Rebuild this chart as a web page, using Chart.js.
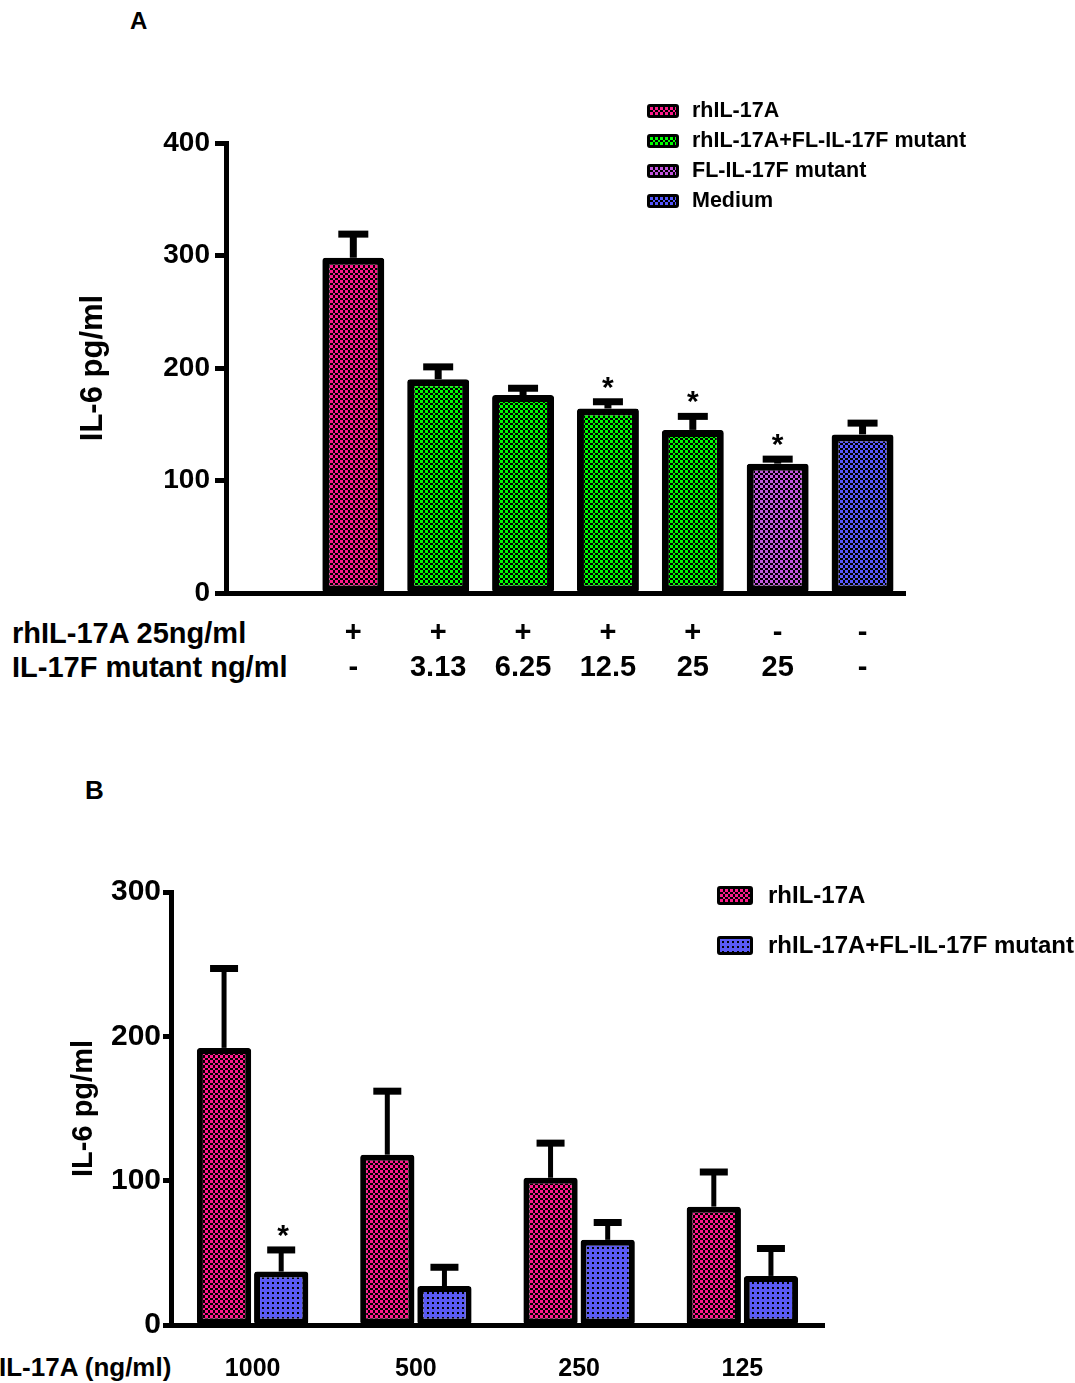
<!DOCTYPE html>
<html>
<head>
<meta charset="utf-8">
<script src="https://cdn.jsdelivr.net/npm/chart.js@4.4.1/dist/chart.umd.min.js"></script>
<style>
  body { margin: 0; background: #fff; }
  #page { position: relative; width: 1075px; height: 1383px; overflow: hidden;
          font-family: 'Liberation Sans', Arial, sans-serif; font-weight: bold; color: #000; }
  .box  { position: absolute; left: 0; }
  .txt  { position: absolute; white-space: nowrap; line-height: 1; }
  .leg  { position: absolute; display: flex; align-items: center; white-space: nowrap; line-height: 1; }
  .sw   { box-sizing: border-box; border: 3px solid #000; border-radius: 3px; }
</style>
</head>
<body>
<div id="page">
  <div class="txt" style="left:130px;top:9px;font-size:24px">A</div>
  <div class="txt" style="left:12px;top:619px;font-size:29px">rhIL-17A 25ng/ml</div>
  <div class="txt" style="left:12px;top:653px;font-size:29px">IL-17F mutant ng/ml</div>
  <div class="box" style="top:0;width:1075px;height:720px"><canvas id="chartA" width="1075" height="720"></canvas></div>

  <div class="txt" style="left:85px;top:777px;font-size:26px">B</div>
  <div class="txt" style="left:-1px;top:1354px;font-size:26px">IL-17A (ng/ml)</div>
  <div class="box" style="top:760px;width:1075px;height:623px"><canvas id="chartB" width="1075" height="623"></canvas></div>
</div>

<script>
/* ---------- panel A data ---------- */
const seriesA  = ['rhIL-17A', 'rhIL-17A+FL-IL-17F mutant', 'FL-IL-17F mutant', 'Medium'];
const rowRhA   = ['', '+', '+', '+', '+', '+', '-', '-'];
const rowMutA  = ['', '-', '3.13', '6.25', '12.5', '25', '25', '-'];
const meansA   = [null, 298, 190, 176, 164, 145, 115, 141];
const errA     = [null, 21, 11, 6, 6, 12, 4, 10];
const groupA   = [null, 0, 1, 1, 1, 1, 2, 3];
const starA    = [0, 0, 0, 0, 1, 1, 1, 0];
const ticksA   = [0, 100, 200, 300, 400];

/* ---------- panel B data ---------- */
const seriesB  = ['rhIL-17A', 'rhIL-17A+FL-IL-17F mutant'];
const doseB    = ['1000', '500', '250', '125'];
const redB     = [192, 118, 102, 82];
const redErrB  = [55, 44, 24, 24];
const blueB    = [37, 27, 59, 34];
const blueErrB = [15, 13, 12, 19];
const starB    = [1, 0, 0, 0];
const ticksB   = [0, 100, 200, 300];

/* ---------- colours ---------- */
const COLORS = {
  pink   : '#ff1a8c',
  green  : '#00ff00',
  purple : '#c455e0',
  blue   : '#5757ff',
  blueB  : '#5a5af5'
};
const FONT = "'Liberation Sans', Arial, sans-serif";
Chart.defaults.font.family = FONT;
Chart.defaults.color = '#000';

/* ---------- fill tiles (uneven checker, colour a bit dominant) ---------- */
const checker = color => {
  const c = document.createElement('canvas');
  c.width = c.height = 5;
  const g = c.getContext('2d');
  g.fillStyle = '#000'; g.fillRect(0, 0, 5, 5);
  g.fillStyle = color;  g.fillRect(0, 0, 3, 3); g.fillRect(3, 3, 2, 2);
  return c;
};
const dotted = color => {
  const c = document.createElement('canvas');
  c.width = c.height = 5;
  const g = c.getContext('2d');
  g.fillStyle = color;  g.fillRect(0, 0, 5, 5);
  g.fillStyle = '#000'; g.fillRect(2, 2, 2, 2);
  return c;
};
const pat = tile => document.createElement('canvas').getContext('2d').createPattern(tile, 'repeat');

const tilesA = [checker(COLORS.pink), checker(COLORS.green), checker(COLORS.purple), checker(COLORS.blue)];
const tilesB = [checker(COLORS.pink), dotted(COLORS.blueB)];

/* ---------- html legend ---------- */
const legend = (names, tiles, x, y0, step, sw, fs, gap) => {
  const page = document.getElementById('page');
  names.forEach((name, i) => {
    const row = document.createElement('div');
    row.className = 'leg';
    row.style.cssText = `left:${x}px;top:${y0 + i * step - 15}px;height:30px;font-size:${fs}px`;
    row.innerHTML = `<span class="sw" style="width:${sw[0]}px;height:${sw[1]}px;margin-right:${gap}px;` +
      `background-image:url(${tiles[i].toDataURL()})"></span><span>${name}</span>`;
    page.appendChild(row);
  });
};
legend(seriesA, tilesA, 647, 111, 30, [32, 14], 21.5, 13);
legend(seriesB, tilesB, 717, 895, 50, [36, 19], 24, 15);

/* ---------- error bars + asterisks ---------- */
const errorBars = {
  id: 'errorBars',
  afterDatasetsDraw (chart, args, o) {
    const { ctx, scales: { y } } = chart;
    chart.data.datasets.forEach((ds, di) => {
      chart.getDatasetMeta(di).data.forEach((bar, i) => {
        const v = ds.data[i];
        if (v == null) return;
        const top = y.getPixelForValue(v + ds.errs[i]);
        ctx.save();
        ctx.strokeStyle = '#000';
        ctx.lineWidth = o.stem;
        ctx.beginPath(); ctx.moveTo(bar.x, bar.y); ctx.lineTo(bar.x, top); ctx.stroke();
        ctx.lineWidth = 7;
        ctx.beginPath(); ctx.moveTo(bar.x - o.cap, top); ctx.lineTo(bar.x + o.cap, top); ctx.stroke();
        if (ds.stars[i]) {
          ctx.fillStyle = '#000';
          ctx.font = `bold 30px ${FONT}`;
          ctx.textAlign = 'center';
          ctx.textBaseline = 'alphabetic';
          ctx.fillText('*', bar.x + o.starDx, top - 5);
        }
        ctx.restore();
      });
    });
  }
};

const yAxis = (max, ticks, width, tickFs, titleFs, titlePad, tickLen, tickPad) => ({
  min: 0, max,
  afterFit: s => { s.width = width; },
  afterBuildTicks: s => { s.ticks = ticks.map(v => ({ value: v })); },
  border: { display: true, width: 5, color: '#000' },
  grid: { drawOnChartArea: false, drawTicks: true, tickLength: tickLen, tickWidth: 5, tickColor: '#000' },
  ticks: { font: { size: tickFs, weight: 'bold' }, padding: tickPad },
  title: { display: true, text: 'IL-6 pg/ml', font: { size: titleFs, weight: 'bold' },
           padding: { top: titlePad, bottom: 0 } }
});

/* ---------- chart A ---------- */
new Chart(document.getElementById('chartA'), {
  type: 'bar',
  data: {
    labels: rowRhA.map((r, i) => [r, rowMutA[i]]),
    datasets: seriesA.map((name, s) => ({
      label: name,
      data : meansA.map((v, i) => groupA[i] === s ? v : null),
      errs : errA,
      stars: starA,
      backgroundColor: pat(tilesA[s]),
      borderColor: '#000', borderWidth: 7, borderSkipped: false, borderRadius: 3,
      grouped: false, categoryPercentage: 0.82, barPercentage: 0.89
    }))
  },
  options: {
    responsive: false, animation: false,
    layout: { padding: { top: 143, right: 170, left: 0, bottom: 0 } },
    plugins: { legend: { display: false }, tooltip: { enabled: false },
               errorBars: { stem: 7, cap: 15, starDx: 0 } },
    scales: {
      x: {
        afterFit: s => { s.height = 720 - 593; },
        border: { display: true, width: 5, color: '#000' },
        grid: { display: false, drawTicks: false },
        ticks: { font: { size: 29, weight: 'bold' }, padding: 23, maxRotation: 0, autoSkip: false }
      },
      y: yAxis(400, ticksA, 226, 28, 31, 75, 11, 5)
    }
  },
  plugins: [errorBars]
});

/* ---------- chart B ---------- */
new Chart(document.getElementById('chartB'), {
  type: 'bar',
  data: {
    labels: doseB,
    datasets: [
      { label: seriesB[0], data: redB,  errs: redErrB,  stars: [0, 0, 0, 0], backgroundColor: pat(tilesB[0]) },
      { label: seriesB[1], data: blueB, errs: blueErrB, stars: starB,        backgroundColor: pat(tilesB[1]) }
    ].map(d => ({ ...d, borderColor: '#000', borderWidth: 6, borderSkipped: false, borderRadius: 3,
                  categoryPercentage: 0.7, barPercentage: 0.95 }))
  },
  options: {
    responsive: false, animation: false,
    layout: { padding: { top: 132, right: 251, left: 0, bottom: 0 } },
    plugins: { legend: { display: false }, tooltip: { enabled: false },
               errorBars: { stem: 5, cap: 14, starDx: 2 } },
    scales: {
      x: {
        afterFit: s => { s.height = 623 - 565; },
        border: { display: true, width: 5, color: '#000' },
        grid: { display: false, drawTicks: false },
        ticks: { font: { size: 25, weight: 'bold' }, padding: 29, maxRotation: 0, autoSkip: false }
      },
      y: yAxis(300, ticksB, 171, 30, 29, 67, 8, 2)
    }
  },
  plugins: [errorBars]
});
</script>
</body>
</html>
